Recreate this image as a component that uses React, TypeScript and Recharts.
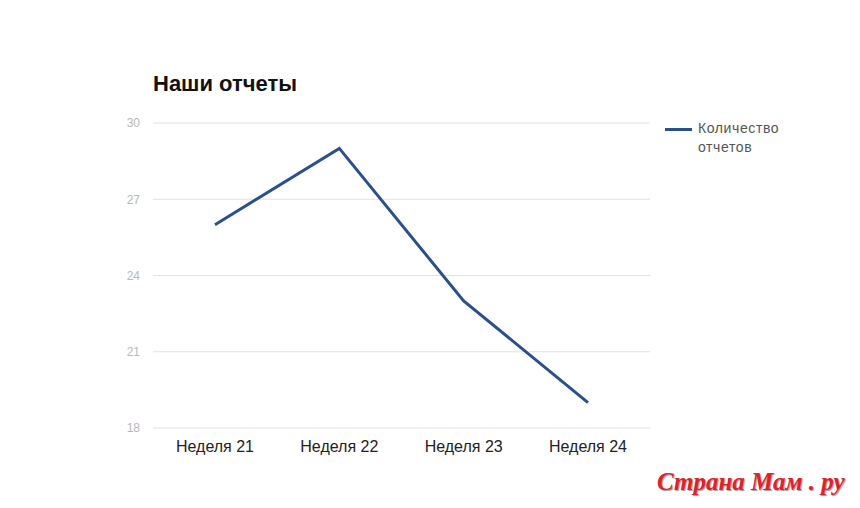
import { LineChart, Line, XAxis, YAxis, CartesianGrid } from "recharts";

const weeks = ["Неделя 21", "Неделя 22", "Неделя 23", "Неделя 24"];
const reportCounts = [26, 29, 23, 19];
const yTicks = [18, 21, 24, 27, 30];

const chartData = weeks.map((w, i) => ({ week: w, count: reportCounts[i] }));

const LINE_COLOR = "#2b4f8b";

export default function App() {
  return (
    <div
      style={{
        position: "absolute",
        left: 0,
        top: 0,
        width: 860,
        height: 508,
        background: "#fff",
        fontFamily: "Arial, 'Liberation Sans', sans-serif",
      }}
    >
      <div
        style={{
          position: "absolute",
          left: 153,
          top: 71,
          fontSize: 22,
          fontWeight: "bold",
          color: "#111",
        }}
      >
        Наши отчеты
      </div>
      <LineChart
        width={860}
        height={508}
        data={chartData}
        margin={{ top: 123, right: 210, left: 103, bottom: 50 }}
      >
        <CartesianGrid vertical={false} stroke="#e2e2e2" />
        <XAxis
          dataKey="week"
          axisLine={false}
          tickLine={false}
          padding={{ left: 62, right: 62 }}
          height={30}
          tickMargin={7}
          tick={{ fontSize: 16, fill: "#222" }}
        />
        <YAxis
          domain={[18, 30]}
          ticks={yTicks}
          axisLine={false}
          tickLine={false}
          width={50}
          tickMargin={7}
          tick={{ fontSize: 12, fill: "#b8b8b8" }}
        />
        <Line
          type="linear"
          dataKey="count"
          name="Количество отчетов"
          stroke={LINE_COLOR}
          strokeWidth={3}
          dot={false}
          activeDot={false}
          isAnimationActive={false}
        />
      </LineChart>
      {/* legend */}
      <div style={{ position: "absolute", left: 665, top: 119, display: "flex", alignItems: "flex-start" }}>
        <div style={{ width: 27, height: 3, background: LINE_COLOR, marginTop: 9 }} />
        <div style={{ marginLeft: 6, fontSize: 14, letterSpacing: 0.6, color: "#555", lineHeight: "19px" }}>
          Количество
          <br />
          отчетов
        </div>
      </div>
      <div
        style={{
          position: "absolute",
          left: 657,
          top: 468,
          fontFamily: "'Liberation Serif', 'DejaVu Serif', serif",
          fontStyle: "italic",
          fontWeight: "bold",
          fontSize: 25,
          color: "#e0202a",
          textShadow: "1px 1px 1px #999, -1px -1px 0 #fff",
          whiteSpace: "nowrap",
        }}
      >
        Страна Мам . ру
      </div>
    </div>
  );
}
